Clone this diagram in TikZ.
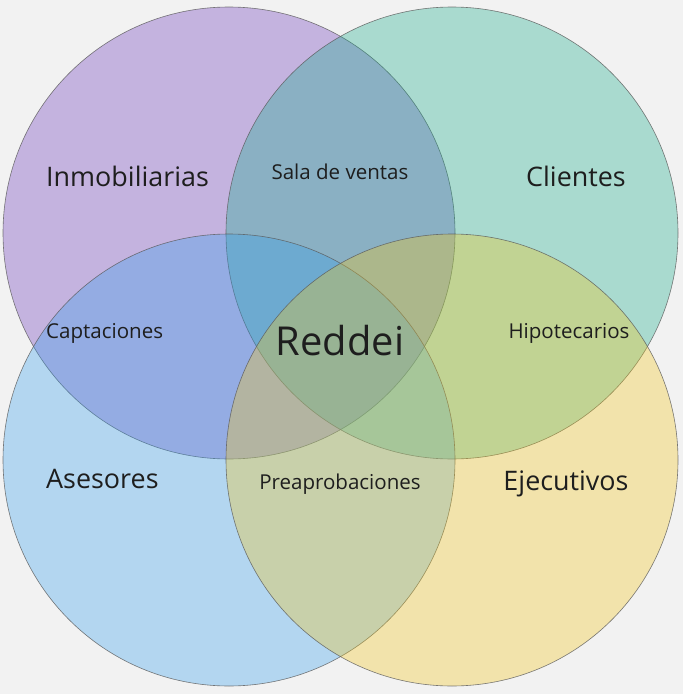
\documentclass[tikz,border=0pt]{standalone}
\usepackage{fontspec}
\setmainfont{Open Sans}
\usetikzlibrary{positioning}

\definecolor{bgGray}{RGB}{242,242,242}
\definecolor{lila}{RGB}{101,48,186}
\definecolor{verde}{RGB}{17,170,136}
\definecolor{celeste}{RGB}{48,158,236}
\definecolor{amarillo}{RGB}{245,198,23}
\definecolor{borde}{RGB}{90,90,90}
\definecolor{texto}{RGB}{30,30,30}

\begin{document}
\begin{tikzpicture}[x=1bp,y=-1bp,
    conjunto/.style={draw=borde,draw opacity=0.8,line width=0.6bp,fill opacity=0.32},
    grande/.style={text=texto,inner sep=0pt,font=\fontsize{27}{30}\selectfont},
    chico/.style={text=texto,inner sep=0pt,font=\fontsize{20.6}{24}\selectfont}]
  \fill[bgGray] (0,0) rectangle (683,694);
  \useasboundingbox (0,0) rectangle (683,694);
  % conjuntos
  \filldraw[conjunto,fill=lila]     (229,233) circle[radius=226];
  \filldraw[conjunto,fill=verde]    (452,233) circle[radius=226];
  \filldraw[conjunto,fill=celeste]  (229,460) circle[radius=226];
  \filldraw[conjunto,fill=amarillo] (452,460) circle[radius=226];
  % etiquetas
  \node[grande,anchor=west] (inmo) at (46,176) {Inmobiliarias};
  \node[grande] (clie) at (576,176) {Clientes};
  \node[grande,anchor=west] (ases) at (46,479) {Asesores};
  \node[grande] (ejec) at (566,484) {Ejecutivos};
  \node[chico] (sala) at (340,172) {Sala de ventas};
  \node[chico,anchor=west] (capt) at (46,333) {Captaciones};
  \node[chico] (hipo) at (569,333) {Hipotecarios};
  \node[chico] (prea) at (340,484) {Preaprobaciones};
  \node[text=texto,inner sep=0pt,font=\fontsize{40}{46}\selectfont] (redd) at (340,341) {Reddei};
\end{tikzpicture}
\end{document}
